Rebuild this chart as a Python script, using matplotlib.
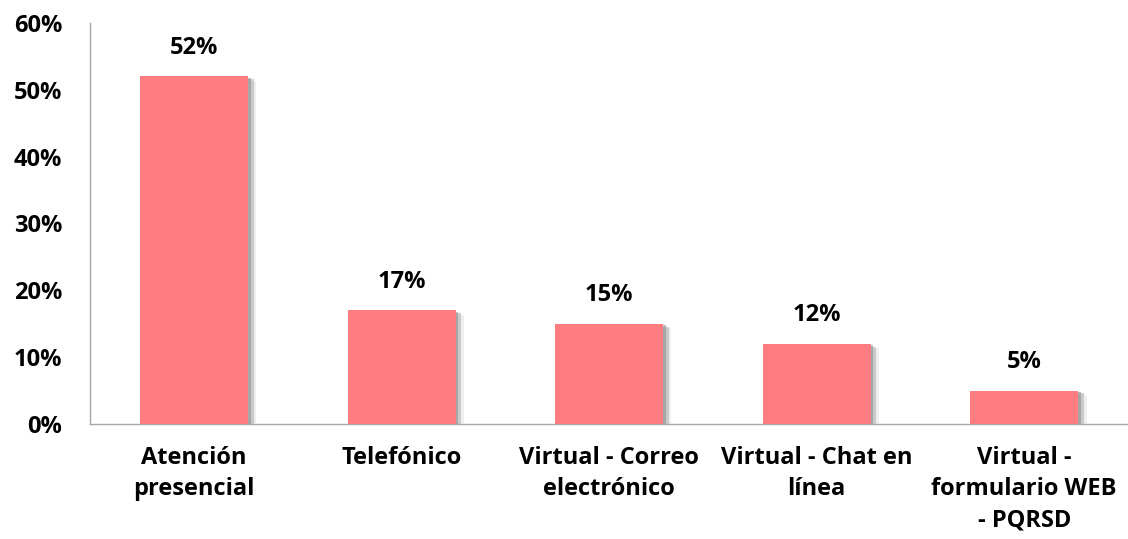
import numpy as np
import matplotlib.pyplot as plt
import matplotlib.patheffects as pe

categories = ['Atención\npresencial', 'Telefónico', 'Virtual - Correo\nelectrónico',
              'Virtual - Chat en\nlínea', 'Virtual -\nformulario WEB\n- PQRSD']
values = [0.52, 0.17, 0.15, 0.12, 0.05]
value_labels = ['52%', '17%', '15%', '12%', '5%']
yticks = [0, 0.1, 0.2, 0.3, 0.4, 0.5, 0.6]
ytick_labels = ['0%', '10%', '20%', '30%', '40%', '50%', '60%']

plt.rcParams['font.family'] = ['Open Sans', 'DejaVu Sans']
plt.rcParams['font.weight'] = 'bold'

fig = plt.figure(figsize=(11.28, 5.39), dpi=100)
ax = fig.add_axes([0.08, 0.2134, 0.92, 0.7439])

x = np.arange(len(categories))
bars = ax.bar(x, values, width=0.52, color='#FF7C80', zorder=3)
for b in bars:
    b.set_path_effects([
        pe.SimplePatchShadow(offset=(6, -3), shadow_rgbFace='#e0e0e0', alpha=0.5),
        pe.SimplePatchShadow(offset=(4, -2), shadow_rgbFace='#b0b0b0', alpha=0.6),
        pe.SimplePatchShadow(offset=(2, -1), shadow_rgbFace='#909090', alpha=0.6),
        pe.Normal()])

for xi, v, lab in zip(x, values, value_labels):
    ax.text(xi, v + 0.025, lab, ha='center', va='bottom', fontsize=17, fontweight='bold')

ax.set_xlim(-0.5, 4.5)
ax.set_ylim(0, 0.6)
ax.set_yticks(yticks)
ax.set_yticklabels(ytick_labels, fontsize=17, fontweight='bold')
ax.set_xticks(x)
ax.set_xticklabels(categories, fontsize=17, fontweight='bold', linespacing=1.4)
ax.tick_params(length=0)
ax.tick_params(axis='x', pad=16)
ax.tick_params(axis='y', pad=20)
for s in ['top', 'right']:
    ax.spines[s].set_visible(False)
for s in ['left', 'bottom']:
    ax.spines[s].set_color('#a6a6a6')
    ax.spines[s].set_linewidth(1)

fig.savefig('out.png', dpi=100)
